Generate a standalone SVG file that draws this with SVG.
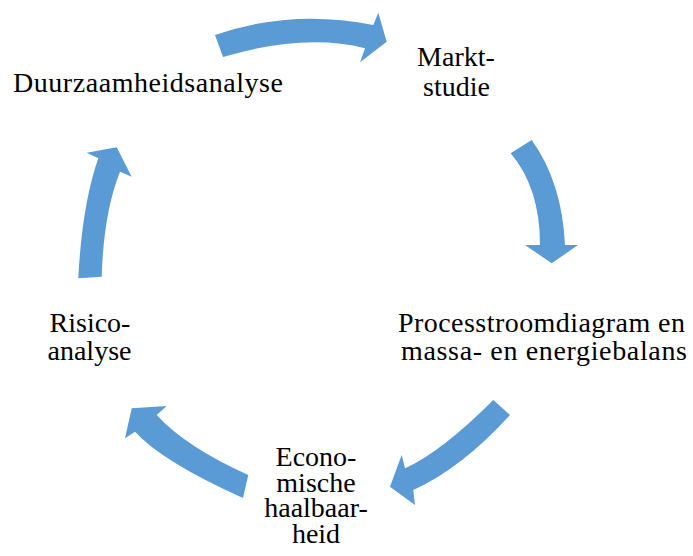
<svg xmlns="http://www.w3.org/2000/svg" width="693" height="556" viewBox="0 0 693 556">
<style>
text{font-family:'Liberation Serif','Times New Roman',serif;font-size:28px;fill:#000;}
.mid{text-anchor:middle;}
.arr{fill:#5B9BD5;stroke:none;}
</style>
<rect width="693" height="556" fill="#FFFFFF"/>
<g id="connectors">
<path class="arr" d="M215,35 Q291,8.5 373.3,25 L378.3,12.7 L386.7,41.7 L360,62.3 L365,48.3 Q304,33 223,57 Z"/>
<path class="arr" d="M531.7,140 Q562,182 565,245 L578,245 L551.7,263.3 L525,245 L540,245 Q540,188 510.7,153.3 Z"/>
<path class="arr" d="M510,415 Q461.5,468.3 413.3,490 L415,505 L390,486.7 L401.7,455 L405,468.3 Q441.3,452 493.3,400 Z"/>
<path class="arr" d="M248.3,475 Q185.6,446.8 156.7,415 L166.7,406 L131.7,408.3 L125,438.3 L135,431.7 Q162.2,461.6 243,498 Z"/>
<path class="arr" d="M78.3,278.3 Q82,205 98.3,158.3 L86.7,152.7 L116.7,147.3 L131.7,176.7 L120,171.7 Q103.6,212.7 101.7,276.7 Z"/>
</g>
<g id="node-markt">
<text class="mid" x="456" y="66">Markt-</text>
<text class="mid" x="456.5" y="96">studie</text>
</g>
<g id="node-process">
<text x="398" y="332" textLength="287">Processtroomdiagram en</text>
<text x="401" y="360" textLength="286">massa- en energiebalans</text>
</g>
<g id="node-econ">
<text class="mid" x="316" y="466">Econo-</text>
<text class="mid" x="316" y="492">mische</text>
<text class="mid" x="316" y="517">haalbaar-</text>
<text class="mid" x="316" y="543">heid</text>
</g>
<g id="node-risico">
<text class="mid" x="90" y="332">Risico-</text>
<text class="mid" x="89.5" y="360">analyse</text>
</g>
<g id="node-duurzaam">
<text x="13" y="92" textLength="270">Duurzaamheidsanalyse</text>
</g>
</svg>
